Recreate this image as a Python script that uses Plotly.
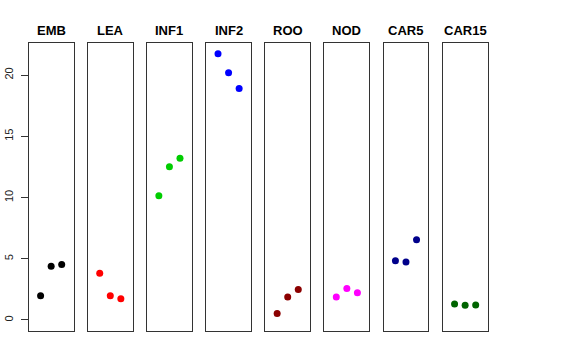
import plotly.graph_objects as go

categories = ["EMB", "LEA", "INF1", "INF2", "ROO", "NOD", "CAR5", "CAR15"]
colors = ["#000000", "#FF0000", "#00CD00", "#0000FF", "#8B0000", "#FF00FF", "#00008B", "#006400"]
replicate = [1, 2, 3]
values_EMB = [1.98, 4.38, 4.54]
values_LEA = [3.81, 1.98, 1.74]
values_INF1 = [10.15, 12.52, 13.22]
values_INF2 = [21.74, 20.19, 18.91]
values_ROO = [0.52, 1.88, 2.50]
values_NOD = [1.88, 2.58, 2.23]
values_CAR5 = [4.84, 4.73, 6.56]
values_CAR15 = [1.31, 1.20, 1.22]
series = [values_EMB, values_LEA, values_INF1, values_INF2,
          values_ROO, values_NOD, values_CAR5, values_CAR15]
y_ticks = [0, 5, 10, 15, 20]

W, H = 576, 360
fig = go.Figure()
left0, step, pw = 28.7, 59.14, 44.9
top_px, bot_px = 43.3, 331.0
ydom = [1 - bot_px / H, 1 - top_px / H]

for i, (cat, col, vals) in enumerate(zip(categories, colors, series)):
    ax = "" if i == 0 else str(i + 1)
    fig.add_trace(go.Scatter(
        x=replicate, y=vals, mode="markers",
        marker=dict(color=col, size=7, line=dict(width=0)),
        xaxis="x" + ax, yaxis="y" + ax, showlegend=False,
        hoverinfo="y"))
    x0 = (left0 + i * step) / W
    x1 = (left0 + i * step + pw) / W
    fig.layout["xaxis" + ax] = dict(
        domain=[x0, x1], range=[-0.125, 4.125], showticklabels=False,
        showgrid=False, zeroline=False, ticks="", showline=True, mirror=True,
        linecolor="#333333", linewidth=1, anchor="y" + ax, fixedrange=True)
    ydict = dict(
        domain=ydom, range=[-0.9, 22.6], showgrid=False, zeroline=False,
        showline=True, mirror=True, linecolor="#333333", linewidth=1,
        anchor="x" + ax, fixedrange=True, automargin=False)
    if i == 0:
        ydict.update(tickvals=y_ticks, ticks="outside", ticklen=7,
                     tickcolor="#333333", tickangle=-90,
                     tickfont=dict(family="Liberation Sans, Arial", size=11, color="#222222"),
                     ticklabelstandoff=3)
    else:
        ydict.update(showticklabels=False, ticks="")
    fig.layout["yaxis" + ax] = ydict
    fig.add_annotation(
        x=(x0 + x1) / 2, y=1 - 30 / H, xref="paper", yref="paper",
        text="<b>" + cat + "</b>", showarrow=False, xanchor="center", yanchor="middle",
        font=dict(family="Liberation Sans, Arial", size=13, color="#000000"))

fig.update_layout(
    width=W, height=H, margin=dict(l=0, r=0, t=0, b=0, autoexpand=False),
    paper_bgcolor="white", plot_bgcolor="white")

fig.write_html("out.html", config={"displayModeBar": False},
               post_script="document.body.style.margin='0';")
